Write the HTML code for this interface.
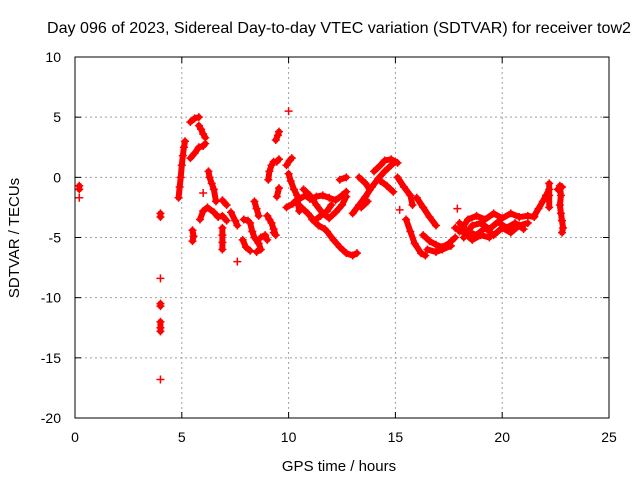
<!DOCTYPE html>
<html><head><meta charset="utf-8"><style>
body{margin:0;background:#fff}
svg{display:block;font-family:"Liberation Sans",sans-serif}
</style></head><body>
<svg id="chart" width="640" height="480">
<text x="339" y="33" text-anchor="middle" font-size="16" textLength="584" lengthAdjust="spacingAndGlyphs">Day 096 of 2023, Sidereal Day-to-day VTEC variation (SDTVAR) for receiver tow2</text>
<text x="339" y="471" text-anchor="middle" font-size="15">GPS time / hours</text>
<text transform="translate(19,238) rotate(-90)" text-anchor="middle" font-size="15">SDTVAR / TECUs</text>
<g id="grid"></g>
<g id="ticks"></g>
<g id="marks"></g>
<rect x="75" y="57" width="534" height="361" fill="none" stroke="#000"/>
</svg>
<script>
const xTicks=[0,5,10,15,20,25];
const yTicks=[10,5,0,-5,-10,-15,-20];
const segments=[
[[0.2,-0.7],[0.2,-1.0]],[[0.2,-1.7]],
[[4.0,-3.0],[4.0,-3.3]],[[4.0,-8.4]],[[4.0,-10.5],[4.0,-10.7]],[[4.0,-12.0],[4.0,-12.5],[4.0,-12.8]],[[4.0,-16.8]],
[[4.85,-1.7],[4.9,-0.8],[4.95,0],[5.0,1],[5.05,1.8],[5.1,2.5],[5.15,3]],
[[5.4,4.6],[5.6,4.9],[5.8,5.0]],
[[5.8,4.3],[5.9,4.0],[6.0,3.6],[6.1,3.3]],
[[5.4,1.6],[5.6,2.0],[5.8,2.5],[6.0,2.6],[6.1,2.8]],
[[5.5,-4.4],[5.55,-4.9],[5.5,-5.3]],
[[6.0,-1.3]],
[[6.25,0.5],[6.3,0],[6.4,-0.5],[6.5,-1.0],[6.6,-2.0]],
[[5.85,-3.5],[6.0,-2.8],[6.2,-2.5],[6.5,-2.9],[6.7,-3.3],[6.9,-3.2],[7.1,-3.6]],
[[6.9,-1.9],[7.1,-2.3]],
[[6.9,-4.2],[6.9,-4.8],[6.9,-5.4],[6.9,-6.0]],
[[7.3,-2.9],[7.5,-3.6],[7.6,-4.0]],
[[7.6,-7.0]],
[[7.9,-3.5],[8.1,-3.6]],
[[7.85,-5.2],[8.0,-5.8],[8.2,-6.1]],
[[8.4,-2.0],[8.5,-2.6],[8.6,-3.2]],
[[8.2,-3.8],[8.3,-4.5],[8.4,-5.0],[8.6,-5.5],[8.7,-6.0],[8.5,-6.2]],
[[8.7,-5.0],[8.9,-4.8],[9.0,-5.2]],
[[9.05,-0.2],[9.1,0.5],[9.2,1.0],[9.3,1.3]],
[[9.45,1.3],[9.55,1.5]],
[[9.4,3.1],[9.5,3.5],[9.55,3.8]],
[[9.0,-3.2],[9.1,-3.5],[9.2,-3.8],[9.3,-4.3],[9.4,-4.8],[9.3,-4.6]],
[[9.45,-1.6],[9.55,-0.9]],
[[10.0,5.5]],
[[9.9,1.0],[10.05,1.4],[10.15,1.6]],
[[10.0,0.3],[10.1,-0.3],[10.25,-1.0],[10.4,-1.5],[10.45,-2.3],[10.5,-2.8]],
[[9.9,-2.5],[10.2,-2.2],[10.5,-1.8],[10.8,-1.5],[11.0,-1.8],[11.3,-1.6],[11.6,-1.5],[11.9,-1.7],[12.2,-1.9],[12.5,-1.5],[12.7,-1.2]],
[[10.3,-2.0],[10.6,-2.5],[10.9,-3.0],[11.2,-3.6],[11.5,-3.2],[11.8,-2.8],[12.0,-2.3]],
[[10.7,-1.0],[11.0,-1.5],[11.3,-2.3],[11.6,-3.0],[11.9,-3.4],[12.2,-2.9],[12.5,-2.3],[12.7,-1.6]],
[[11.1,-3.5],[11.4,-4.0],[11.7,-4.3]],
[[11.8,-4.5],[12.1,-5.2],[12.4,-5.8],[12.7,-6.3],[13.0,-6.5],[13.2,-6.3]],
[[12.4,-0.2],[12.7,0]],
[[13.0,-3.0],[13.3,-2.3],[13.6,-1.6],[13.9,-0.8],[14.2,-0.1],[14.5,0.5],[14.8,1.0],[15.0,1.3]],
[[13.3,0.0],[13.6,-0.5],[13.8,-1.0]],
[[14.0,0.5],[14.3,1.0],[14.5,1.4],[14.8,1.5],[15.1,1.2]],
[[14.3,-0.3],[14.6,-0.7],[14.9,-1.2]],
[[13.4,-2.5],[13.7,-2.0]],
[[15.1,0],[15.4,-0.8],[15.7,-1.5],[15.8,-2.3]],
[[15.2,-2.7]],
[[16.0,-1.7],[16.3,-2.5],[16.6,-3.3],[16.9,-4.0]],
[[15.5,-3.5],[15.7,-4.5],[15.9,-5.5],[16.2,-6.3],[16.4,-6.5]],
[[16.3,-4.8],[16.6,-5.3],[16.9,-5.6],[17.2,-5.8],[17.5,-5.5],[17.8,-5.0]],
[[16.5,-6.0],[16.9,-6.2],[17.2,-6.0],[17.6,-5.7]],
[[17.9,-2.6]],
[[18.0,-4.5],[18.4,-3.5],[18.8,-3.2],[19.2,-3.5],[19.6,-3.0],[20.0,-3.4],[20.4,-3.0],[20.8,-3.3],[21.2,-3.2],[21.5,-3.3]],
[[18.0,-3.8],[18.4,-4.5],[18.8,-4.8],[19.2,-4.2],[19.6,-4.8],[20.0,-4.2],[20.4,-4.6],[20.8,-4.0],[21.2,-3.8]],
[[18.2,-5.0],[18.6,-4.0],[19.0,-3.8],[19.4,-4.3],[19.8,-3.7],[20.2,-4.2],[20.6,-3.8],[21.0,-4.3]],
[[17.8,-4.2],[18.2,-4.6],[18.6,-5.2],[19.0,-4.8],[19.4,-5.0]],
[[21.5,-3.2],[21.7,-2.6],[21.9,-2.0],[22.05,-1.5],[22.2,-1.0]],
[[22.2,-0.5],[22.2,-1.5],[22.2,-2.5]],
[[22.7,-0.7],[22.75,-1.5],[22.7,-2.3],[22.75,-3.0],[22.8,-3.6],[22.85,-4.2],[22.8,-4.6]],
[[22.6,-1.0],[22.8,-0.8]]
];
const NS="http://www.w3.org/2000/svg";
const X0=75,X1=609,Y0=418,Y1=57;
function sx(v){return X0+(v-0)/(25-0)*(X1-X0);}
function sy(v){return Y0-(v+20)/(30)*(Y0-Y1);}
function mk(t,a,p){const e=document.createElementNS(NS,t);for(const k in a)e.setAttribute(k,a[k]);p.appendChild(e);return e;}
const grid=document.getElementById('grid'),ticks=document.getElementById('ticks'),marks=document.getElementById('marks');
xTicks.forEach(v=>{const x=sx(v);
 if(v>0&&v<25){const g=mk('line',{x1:x,x2:x,y1:Y1,y2:Y0,stroke:'#a0a0a0','stroke-dasharray':'2,3'},grid);
 
 }
 mk('line',{x1:x,x2:x,y1:Y0,y2:Y0-6,stroke:'#000'},ticks);
 mk('line',{x1:x,x2:x,y1:Y1,y2:Y1+6,stroke:'#000'},ticks);
 const t=mk('text',{x:x,y:Y0+24,'text-anchor':'middle','font-size':14},ticks);t.textContent=v;
 
 
});
yTicks.forEach(v=>{const y=sy(v);
 if(v>-20&&v<10){const g=mk('line',{x1:X0,x2:X1,y1:y,y2:y,stroke:'#a0a0a0','stroke-dasharray':'2,3'},grid);
 
 }
 mk('line',{x1:X0,x2:X0+6,y1:y,y2:y,stroke:'#000'},ticks);
 mk('line',{x1:X1,x2:X1-6,y1:y,y2:y,stroke:'#000'},ticks);
 const t=mk('text',{x:X0-14,y:y+5,'text-anchor':'end','font-size':14},ticks);t.textContent=v;
 
 
});
segments.forEach(seg=>{
 if(seg.length>1){const pl=mk('polyline',{points:seg.map(p=>sx(p[0])+','+sy(p[1])).join(' '),fill:'none',stroke:'#f00','stroke-width':6,'stroke-linecap':'round','stroke-linejoin':'round'},marks);
 
 }
 seg.forEach(p=>{const x=sx(p[0]),y=sy(p[1]);
  const m=mk('path',{d:`M${x-4},${y}H${x+4}M${x},${y-4}V${y+4}`,stroke:'#f00','stroke-width':1.5},marks);
  
  
 });
});
</script>
</body></html>
